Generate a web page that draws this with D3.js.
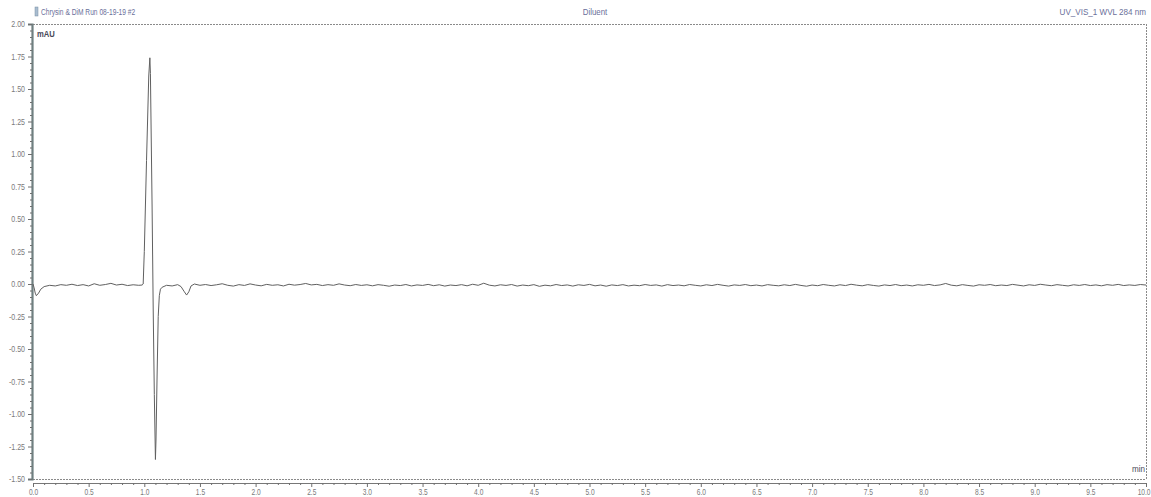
<!DOCTYPE html>
<html>
<head>
<meta charset="utf-8">
<script src="https://cdn.jsdelivr.net/npm/d3@7"></script>
<style>
  html, body { margin: 0; padding: 0; background: #ffffff; }
  svg { display: block; }
  text { font-family: "Liberation Sans", Arial, sans-serif; }
</style>
</head>
<body>
<svg id="chart" width="1151" height="497"></svg>
<script>
// ---- Data ----
const chartTitle = "Chrysin & DiM Run 08-19-19 #2";
const sampleName = "Diluent";
const channelName = "UV_VIS_1 WVL 284 nm";
const yUnit = "mAU";
const xUnit = "min";

const yMajorTicks = [-1.50, -1.25, -1.00, -0.75, -0.50, -0.25, 0.00, 0.25, 0.50, 0.75, 1.00, 1.25, 1.50, 1.75, 2.00];
const xMajorTicks = [0.0, 0.5, 1.0, 1.5, 2.0, 2.5, 3.0, 3.5, 4.0, 4.5, 5.0, 5.5, 6.0, 6.5, 7.0, 7.5, 8.0, 8.5, 9.0, 9.5, 10.0];

const timeMin = [
  0.00, 0.01, 0.02, 0.03, 0.05, 0.07, 0.10, 0.15, 0.20, 0.25, 0.30, 0.35, 0.40, 0.45, 0.50,
  0.55, 0.60, 0.65, 0.70, 0.75, 0.80, 0.85, 0.90, 0.95, 0.98, 0.99, 1.00, 1.02, 1.04, 1.05,
  1.055, 1.07, 1.08, 1.09, 1.10, 1.105, 1.115, 1.125, 1.135, 1.145, 1.16, 1.20, 1.25, 1.30, 1.33,
  1.36, 1.38, 1.40, 1.42, 1.45, 1.50,
  1.55, 1.60, 1.65, 1.70, 1.75, 1.80, 1.85, 1.90, 1.95, 2.00,
  2.05, 2.10, 2.15, 2.20, 2.25, 2.30, 2.35, 2.40, 2.45, 2.50,
  2.55, 2.60, 2.65, 2.70, 2.75, 2.80, 2.85, 2.90, 2.95, 3.00,
  3.05, 3.10, 3.15, 3.20, 3.25, 3.30, 3.35, 3.40, 3.45, 3.50,
  3.55, 3.60, 3.65, 3.70, 3.75, 3.80, 3.85, 3.90, 3.95, 4.00,
  4.05, 4.10, 4.15, 4.20, 4.25, 4.30, 4.35, 4.40, 4.45, 4.50,
  4.55, 4.60, 4.65, 4.70, 4.75, 4.80, 4.85, 4.90, 4.95, 5.00,
  5.05, 5.10, 5.15, 5.20, 5.25, 5.30, 5.35, 5.40, 5.45, 5.50,
  5.55, 5.60, 5.65, 5.70, 5.75, 5.80, 5.85, 5.90, 5.95, 6.00,
  6.05, 6.10, 6.15, 6.20, 6.25, 6.30, 6.35, 6.40, 6.45, 6.50,
  6.55, 6.60, 6.65, 6.70, 6.75, 6.80, 6.85, 6.90, 6.95, 7.00,
  7.05, 7.10, 7.15, 7.20, 7.25, 7.30, 7.35, 7.40, 7.45, 7.50,
  7.55, 7.60, 7.65, 7.70, 7.75, 7.80, 7.85, 7.90, 7.95, 8.00,
  8.05, 8.10, 8.15, 8.20, 8.25, 8.30, 8.35, 8.40, 8.45, 8.50,
  8.55, 8.60, 8.65, 8.70, 8.75, 8.80, 8.85, 8.90, 8.95, 9.00,
  9.05, 9.10, 9.15, 9.20, 9.25, 9.30, 9.35, 9.40, 9.45, 9.50,
  9.55, 9.60, 9.65, 9.70, 9.75, 9.80, 9.85, 9.90, 9.95, 10.00
];

const signalMAU = [
  0.000, -0.030, -0.070, -0.090, -0.070, -0.040, -0.020, -0.010, -0.015, -0.005, -0.010, -0.002, -0.012, -0.005, -0.015,
  0.002, -0.010, -0.004, 0.005, -0.008, -0.002, -0.012, -0.006, -0.010, -0.008, 0.000, 0.250, 0.950, 1.600, 1.740,
  1.620, 0.600, -0.200, -0.850, -1.350, -1.200, -0.700, -0.250, -0.090, -0.040, -0.025, -0.010, -0.015, -0.005, -0.020,
  -0.060, -0.085, -0.060, -0.015, 0.000, -0.010,
  -0.004, -0.012, -0.006, 0.002, -0.010, -0.016, -0.005, -0.011, 0.001, -0.008,
  -0.014, -0.003, -0.010, -0.006, -0.015, -0.002, -0.009, -0.004, 0.004, -0.007,
  -0.003, -0.012, -0.005, -0.010, 0.001, -0.008, -0.013, -0.004, -0.011, -0.006,
  -0.014, -0.005, -0.010, -0.017, -0.008, -0.012, -0.004, -0.015, -0.007, -0.011,
  -0.003, -0.013, -0.006, -0.016, -0.008, -0.012, -0.005, -0.014, -0.002, -0.010,
  0.006, -0.009, -0.015, -0.006, -0.011, -0.004, -0.016, -0.008, -0.013, -0.005,
  -0.018, -0.009, -0.014, -0.004, -0.012, -0.007, -0.016, -0.006, -0.011, -0.003,
  -0.014, -0.008, -0.017, -0.007, -0.012, -0.005, -0.015, -0.009, -0.013, -0.004,
  -0.011, -0.007, -0.016, -0.005, -0.012, -0.008, -0.014, -0.004, -0.010, -0.015,
  -0.006, -0.012, -0.003, -0.010, -0.016, -0.007, -0.011, -0.004, -0.013, -0.008,
  -0.015, -0.005, -0.010, -0.014, -0.006, -0.012, -0.003, -0.011, -0.017, -0.008,
  -0.013, -0.004, -0.010, -0.015, -0.006, -0.012, -0.002, -0.009, -0.014, -0.005,
  -0.011, -0.016, -0.007, -0.012, -0.004, -0.013, -0.008, -0.015, -0.006, -0.010,
  -0.003, -0.012, -0.007, 0.004, -0.009, -0.014, -0.005, -0.011, -0.016, -0.006,
  -0.010, -0.004, -0.013, -0.008, -0.012, -0.003, -0.009, -0.015, -0.006, -0.011,
  -0.002, -0.008, -0.013, -0.005, -0.010, -0.015, -0.006, -0.011, -0.004, -0.012,
  -0.007, -0.014, -0.005, -0.010, -0.003, -0.012, -0.007, -0.011, -0.004, -0.008
];

// ---- Layout ----
const svg = d3.select("#chart");
const plotLeft = 33, plotRight = 1146, plotTop = 24, plotBottom = 479, xAxisY = 483;

const x = d3.scaleLinear().domain([0, 10]).range([plotLeft, plotRight]);
const y = d3.scaleLinear().domain([-1.5, 2.0]).range([plotBottom, plotTop]);

const labelColor = "#7a7a7a";
const frameColor = "#8a8a8a";
const squeeze = 0.78;   // condensed look of the original instrument font

// minor ticks between the major ones
const yMinor = [];
for (let i = 0; i < yMajorTicks.length - 1; i++) {
  const a = yMajorTicks[i], b = yMajorTicks[i + 1];
  for (let k = 1; k < 5; k++) yMinor.push(a + (b - a) * k / 5);
}
const xMinor = [];
for (let i = 0; i < xMajorTicks.length - 1; i++) {
  const a = xMajorTicks[i], b = xMajorTicks[i + 1];
  for (let k = 1; k < 5; k++) xMinor.push(a + (b - a) * k / 5);
}

// frame: top, right, bottom dotted lines
const frame = svg.append("g").attr("stroke", frameColor).attr("stroke-width", 1)
  .attr("stroke-dasharray", "2,1").attr("fill", "none");
frame.append("line").attr("x1", plotLeft).attr("x2", plotRight).attr("y1", plotTop + 0.5).attr("y2", plotTop + 0.5);
frame.append("line").attr("x1", plotRight + 0.5).attr("x2", plotRight + 0.5).attr("y1", plotTop).attr("y2", plotBottom);
frame.append("line").attr("x1", plotLeft).attr("x2", plotRight).attr("y1", plotBottom + 0.5).attr("y2", plotBottom + 0.5);

// Y axis (major + minor)
const yAxisG = svg.append("g").attr("transform", `translate(${plotLeft - 1},0)`)
  .call(d3.axisLeft(y).tickValues(yMajorTicks).tickSize(4).tickPadding(3)
    .tickFormat(d => d.toFixed(2)));
yAxisG.select(".domain").attr("stroke", "#6f7f80").attr("stroke-width", 2.2);
yAxisG.selectAll(".tick line").attr("stroke", "#6f6f6f");
yAxisG.selectAll(".tick text").attr("fill", labelColor).style("font-size", "9px")
  .attr("x", -7 / squeeze).attr("transform", `scale(${squeeze},1)`);

const yMinorG = svg.append("g").attr("transform", `translate(${plotLeft - 1},0)`)
  .call(d3.axisLeft(y).tickValues(yMinor).tickSize(2).tickFormat(""));
yMinorG.select(".domain").remove();
yMinorG.selectAll(".tick line").attr("stroke", "#6f6f6f");

// X axis (major + minor)
const xAxisG = svg.append("g").attr("transform", `translate(0,${xAxisY})`)
  .call(d3.axisBottom(x).tickValues(xMajorTicks).tickSize(4).tickPadding(2)
    .tickFormat(d => d.toFixed(1)));
xAxisG.select(".domain").attr("stroke", "#777").attr("stroke-width", 1);
xAxisG.selectAll(".tick line").attr("stroke", "#6f6f6f");
xAxisG.selectAll(".tick text").attr("fill", labelColor).style("font-size", "8.5px")
  .attr("transform", `scale(${squeeze},1)`);
// keep the last label inside the window
xAxisG.selectAll(".tick text").filter(d => d === 10.0)
  .attr("text-anchor", "end").attr("x", 4 / squeeze);

const xMinorG = svg.append("g").attr("transform", `translate(0,${xAxisY})`)
  .call(d3.axisBottom(x).tickValues(xMinor).tickSize(2).tickFormat(""));
xMinorG.select(".domain").remove();
xMinorG.selectAll(".tick line").attr("stroke", "#6f6f6f");

// trace
const series = timeMin.map((t, i) => ({ t, v: signalMAU[i] }));
svg.append("path")
  .datum(series)
  .attr("fill", "none")
  .attr("stroke", "#606060")
  .attr("stroke-width", 1)
  .attr("stroke-linejoin", "round")
  .attr("d", d3.line().x(d => x(d.t)).y(d => y(d.v)));

// helper for condensed text
function label(px, py, str, opts) {
  const g = svg.append("g").attr("transform", `translate(${px},${py}) scale(${opts.sx || squeeze},1)`);
  return g.append("text")
    .attr("text-anchor", opts.anchor || "start")
    .attr("fill", opts.fill)
    .style("font-size", (opts.size || 9) + "px")
    .style("font-weight", opts.weight || "normal")
    .text(str);
}

// header texts
svg.append("rect").attr("x", 35).attr("y", 7).attr("width", 3).attr("height", 9)
  .attr("fill", "#a9bdd0").attr("stroke", "#7a8ea4").attr("stroke-width", 0.5);
label(41, 15, chartTitle, { fill: "#6a6f9a", sx: 0.74 });
label(595, 15, sampleName, { fill: "#6a6f9a", anchor: "middle", sx: 0.88 });
label(1146, 15, channelName, { fill: "#6a6f9a", anchor: "end", sx: 0.9 });

// unit labels
label(37, 37, yUnit, { fill: "#4a4a5a", weight: "bold", sx: 0.85 });
label(1145, 472, xUnit, { fill: "#4a4a5a", anchor: "end", sx: 0.9 });
</script>
</body>
</html>
